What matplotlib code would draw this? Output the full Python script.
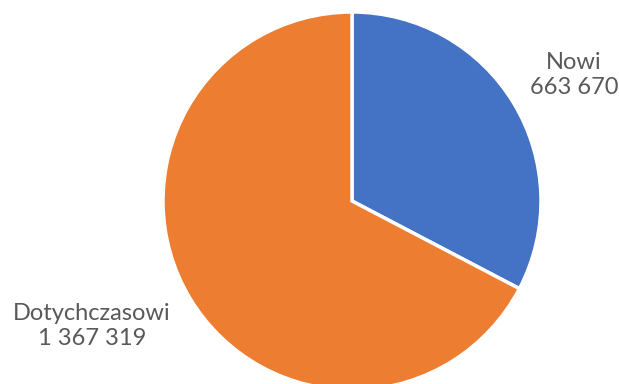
import matplotlib.pyplot as plt

labels = ["Nowi", "Dotychczasowi"]
values = [663670, 1367319]
colors = ["#4472C4", "#ED7D31"]

def fmt(v):
    return f"{v:,}".replace(",", " ")

fig = plt.figure(figsize=(6.19, 3.84), dpi=100)
ax = fig.add_axes([0, 0, 1, 1])

cx, cy, r = 352, 384 - 201, 189
ax.pie(values, colors=colors, startangle=90, counterclock=False,
       center=(cx, cy), radius=r, frame=True,
       wedgeprops=dict(edgecolor="white", linewidth=2.5))
ax.set_xlim(0, 619)
ax.set_ylim(0, 384)
ax.set_aspect("equal")
ax.axis("off")

label_pos = [(574, 384 - 75), (92, 384 - 326)]
for name, v, (x, y) in zip(labels, values, label_pos):
    ax.text(x, y, f"{name}\n{fmt(v)}", ha="center", va="center",
            fontsize=17, color="#595959", family="Lato", linespacing=1.22)

fig.savefig("out.png", dpi=100)
